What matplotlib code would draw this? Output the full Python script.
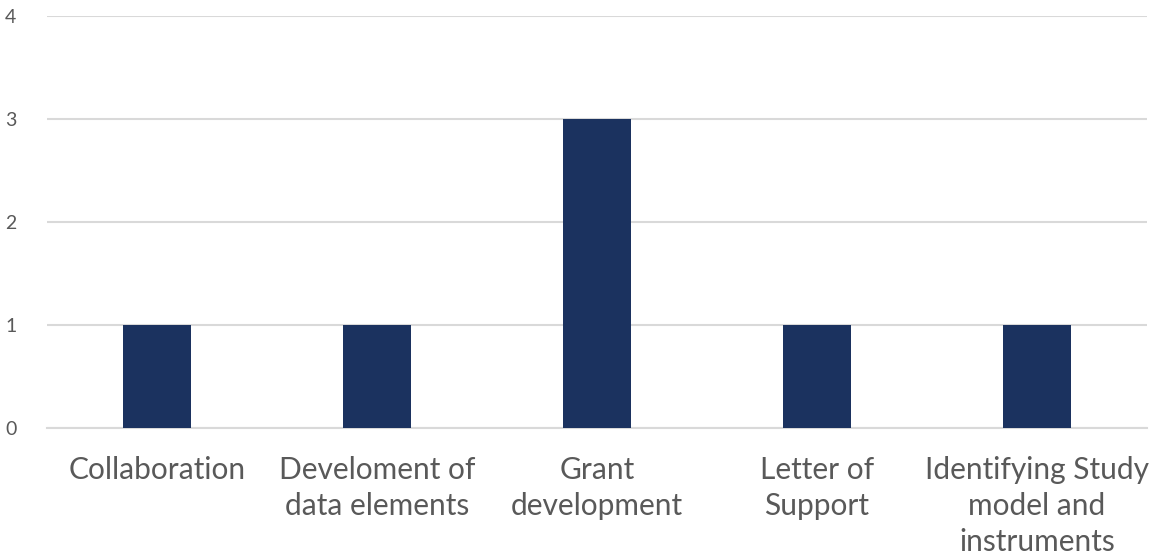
import matplotlib.pyplot as plt

plt.rcParams['font.family'] = ['Lato', 'DejaVu Sans']

categories = ["Collaboration", "Develoment of\ndata elements", "Grant\ndevelopment",
              "Letter of\nSupport", "Identifying Study\nmodel and\ninstruments"]
values = [1, 1, 3, 1, 1]

fig = plt.figure(figsize=(11.5, 5.54), dpi=100)
ax = fig.add_axes([47/1150, 1 - 428/554, 1100/1150, 412/554])

ax.bar(range(len(categories)), values, width=0.31, color='#1b325f', zorder=3)
ax.set_xlim(-0.5, len(categories) - 0.5)
ax.set_ylim(0, 4)
ax.set_yticks([0, 1, 2, 3, 4])
ax.set_xticks(range(len(categories)))
ax.set_xticklabels(categories, fontsize=21.5, color='#595959', linespacing=1.36, va='top')
ax.tick_params(axis='x', length=0, pad=20)
ax.tick_params(axis='y', length=0, pad=22, labelsize=14, labelcolor='#595959')
ax.grid(axis='y', color='#d9d9d9', linewidth=1.5, zorder=0)
for s in ['top', 'right', 'left']:
    ax.spines[s].set_visible(False)
ax.spines['bottom'].set_color('#d9d9d9')
ax.spines['bottom'].set_linewidth(1.5)

fig.savefig('out.png', dpi=100)
